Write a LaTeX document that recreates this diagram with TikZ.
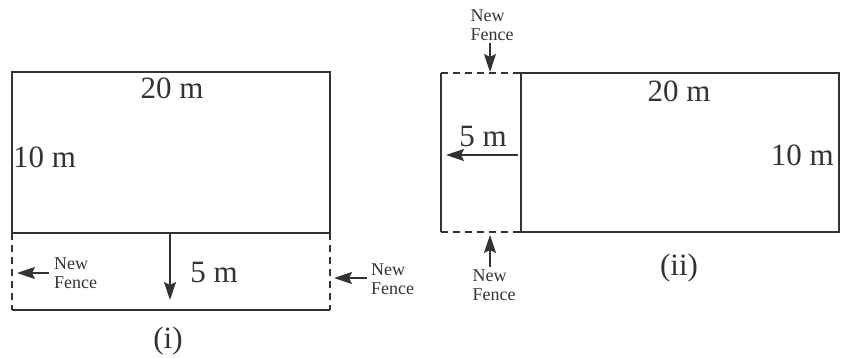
\documentclass[tikz,border=0pt]{standalone}
\usepackage{fontspec}
\setmainfont{Liberation Serif}
\usetikzlibrary{
  arrows.meta,
  positioning
}
\definecolor{ink}{HTML}{333333}
\tikzset{
  >={Stealth[length=18pt,width=12pt,inset=3pt]},
  fence/.style = {draw=ink, line width=1.6pt},
  newfence/.style = {fence, dash pattern=on 7pt off 5pt},
  dim/.style = {->, draw=ink, line width=2pt},
  lbl/.style = {font=\fontsize{31}{34}\selectfont, text=ink, inner sep=0pt},
  note/.style = {font=\fontsize{18}{19}\selectfont, align=left, text=ink, inner sep=0pt},
}

\begin{document}
\begin{tikzpicture}[x=1pt, y=-1pt]
  \useasboundingbox (0,0) rectangle (848,358);
  % (i)
  \coordinate (a1) at (12,72);
  \coordinate (a2) at (330,72);
  \coordinate (a3) at (330,233);
  \coordinate (a4) at (12,233);
  \coordinate (a5) at (330,310);
  \coordinate (a6) at (12,310);
  \draw[fence] (a4) -- (a1) -- (a2) -- (a3) -- cycle;
  \draw[fence] (a6) -- (a5);
  \draw[newfence] (a4) -- (a6) (a3) -- (a5);
  \coordinate (d1) at (170,233);
  \coordinate (d2) at (170,300);
  \draw[dim] (d1) -- (d2);
  \node[lbl] (twentyA) at (172,88) {20 m};
  \node[lbl, anchor=west] (tenA) at (13,157) {10 m};
  \node[lbl] (fiveA) at (214,273) {5 m};
  \node[lbl] (capA) at (168,341) {(i)};
  \node[note, anchor=west] (fenceL) at (54,273) {New\\Fence};
  \coordinate (fl) at (17,273);
  \draw[dim, line width=1.6pt] (fenceL.west) ++(-5,0) -- (fl);
  \node[note, anchor=west] (fenceR) at (371,279) {New\\Fence};
  \coordinate (fr) at (334,278);
  \draw[dim, line width=1.6pt] (fenceR.west) ++(-4,-1) -- (fr);
  % (ii)
  \coordinate (b1) at (441,73);
  \coordinate (b2) at (521,73);
  \coordinate (b3) at (839,73);
  \coordinate (b4) at (839,232);
  \coordinate (b5) at (521,232);
  \coordinate (b6) at (441,232);
  \draw[fence] (b2) -- (b3) -- (b4) -- (b5) -- cycle;
  \draw[fence] (b1) -- (b6);
  \draw[newfence] (b1) -- (b2) (b6) -- (b5);
  \coordinate (e1) at (518,155);
  \coordinate (e2) at (446,155);
  \draw[dim] (e1) -- (e2);
  \node[lbl] (twentyB) at (679,91) {20 m};
  \node[lbl, anchor=east] (tenB) at (834,155) {10 m};
  \node[lbl] (fiveB) at (483,137) {5 m};
  \node[lbl] (capB) at (679,268) {(ii)};
  \node[note, anchor=south] (fenceT) at (492,41) {New\\Fence};
  \coordinate (ft) at (490,72);
  \draw[dim, line width=1.6pt] (490,43) -- (ft);
  \node[note, anchor=north] (fenceB) at (494,270) {New\\Fence};
  \coordinate (fb) at (490,235);
  \draw[dim, line width=1.6pt] (490,267) -- (fb);
\end{tikzpicture}
\end{document}
